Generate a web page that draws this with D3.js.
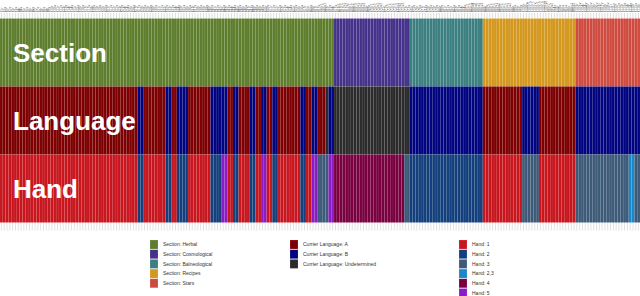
<!DOCTYPE html>
<html>
<head>
<meta charset="utf-8">
<script src="https://cdn.jsdelivr.net/npm/d3@7"></script>
<style>
  body { margin: 0; background: #fff; }
  svg { display: block; font-family: "Liberation Sans", Arial, sans-serif; }
</style>
</head>
<body>
<div id="chart"></div>
<script>
// page labels, grouped by section order as drawn
var pages = ("f1r f1v f2r f2v f3r f3v f4r f4v f5r f5v f6r f6v f7r f7v f8r f8v f9r f9v f10r f10v f11r f11v " +
  "f13r f13v f14r f14v f15r f15v f16r f16v f17r f17v f18r f18v f19r f19v f20r f20v f21r f21v f22r f22v f23r f23v f24r f24v " +
  "f26r f26v f27r f27v f28r f28v f29r f29v f30r f30v f31r f31v f32r f32v f33r f33v f34r f34v f35r f35v f36r f36v f37r f37v f38r f38v f39r f39v f40r f40v " +
  "f41r f41v f42r f42v f43r f43v f44r f44v f45r f45v f46r f46v f47r f47v f48r f48v f49r f49v f50r f50v f51r f51v f52r f52v f53r f53v f54r f54v f55r f55v f56r f56v f57r " +
  "f65r f65v f66r f87r f87v f90r1 f90v1 f93r f93v f94r " +
  "f57v f67r1 f67r2 f67v1 f67v2 f68r1 f68r2 f68r3 f68v1 f68v2 f68v3 f69r f69v f70r1 f70r2 f70v1 f70v2 f71r f71v f72r1 f72r2 f72r3 f72v1 f72v2 f72v3 f73r f73v " +
  "f75r f75v f76r f76v f77r f77v f78r f78v f79r f79v f80r f80v f81r f81v f82r f82v f83r f83v f84r f84v f85r1 f85r2 f86v4 f86v6 f86v5 f86v3 " +
  "f88r f88v f89r1 f89r2 f89v1 f89v2 f95r1 f95r2 f95v1 f95v2 f96r f96v f99r f99v f100r f100v f101r1 f101r2 f101v f102r1 f102r2 f102v1 f102v2 f90r2 f90v2 f94v f58r f58v f66v f85v f86r f86v1 f86v2 " +
  "f103r f103v f104r f104v f105r f105v f106r f106v f107r f107v f108r f108v f111r f111v f112r f112v f113r f113v f114r f114v f115r f115v f116r").split(" ");

var rows = ["Section", "Language", "Hand"];

// runs of [category, number of pages], left to right
var sectionRuns = [["Herbal", 119], ["Cosmological", 27], ["Balneological", 26], ["Recipes", 33], ["Stars", 23]];

var languageRuns = [["A", 49], ["B", 2], ["A", 8], ["B", 2], ["A", 2], ["B", 4], ["A", 8], ["B", 6], ["A", 2], ["B", 2],
  ["A", 4], ["B", 2], ["A", 2], ["B", 2], ["A", 2], ["B", 2], ["A", 8], ["B", 2], ["A", 2], ["B", 2], ["A", 3],
  ["Undetermined", 1], ["B", 2], ["Undetermined", 27], ["B", 26], ["A", 14], ["B", 6], ["A", 13], ["B", 23]];

var handRuns = [["1", 49], ["2", 2], ["1", 8], ["2", 2], ["1", 2], ["2", 4], ["1", 8], ["2", 4], ["5", 2], ["1", 2],
  ["2", 2], ["1", 4], ["2", 2], ["1", 2], ["5", 2], ["1", 2], ["2", 2], ["1", 8], ["2", 2], ["1", 2], ["5", 2],
  ["3", 4], ["5", 2], ["4", 25], ["3", 2], ["2", 26], ["1", 14], ["3", 6], ["1", 13], ["3", 19], ["2,3", 2], ["3", 2]];

var sectionNames = ["Herbal", "Cosmological", "Balneological", "Recipes", "Stars"];
var sectionColors = ["#5e7e2d", "#44318a", "#3c7f80", "#d3981d", "#cf4b40"];
var languageNames = ["A", "B", "Undetermined"];
var languageColors = ["#7c0002", "#00047f", "#2b2b2b"];
var handNames = ["1", "2", "3", "2,3", "4", "5"];
var handColors = ["#c8161f", "#13407c", "#3d5b78", "#1a87c8", "#7a0140", "#8b1bc6"];

var width = 640, height = 296;

var legendKeys = [], legendColors = [];
sectionNames.forEach(function(n, i) { legendKeys.push("Section: " + n); legendColors.push(sectionColors[i]); });
languageNames.forEach(function(n, i) { legendKeys.push("Currier Language: " + n); legendColors.push(languageColors[i]); });
handNames.forEach(function(n, i) { legendKeys.push("Hand: " + n); legendColors.push(handColors[i]); });

var color = d3.scaleOrdinal().domain(legendKeys).range(legendColors);

var prefix = { Section: "Section: ", Language: "Currier Language: ", Hand: "Hand: " };
var runsByRow = { Section: sectionRuns, Language: languageRuns, Hand: handRuns };

// expand runs into one cell per page
var cells = [];
rows.forEach(function(r) {
  var i = 0;
  runsByRow[r].forEach(function(run) {
    for (var k = 0; k < run[1]; k++) {
      cells.push({ page: pages[i], row: r, key: prefix[r] + run[0] });
      i++;
    }
  });
});

var x = d3.scaleBand().domain(pages).range([0, width]);
var y = d3.scaleBand().domain(rows).range([18.5, 222.5]);

var svg = d3.select("#chart").append("svg")
    .attr("width", width)
    .attr("height", height);

// top axis with page names
var topAxis = svg.append("g")
    .attr("transform", "translate(0,18)")
    .call(d3.axisTop(x).tickSize(5));
topAxis.select(".domain").remove();
topAxis.selectAll("line").attr("stroke", "#dcdcdc");
topAxis.selectAll("text")
    .attr("x", null)
    .attr("y", null)
    .attr("dy", "0.35em")
    .attr("transform", "translate(0,-6) rotate(-90)")
    .attr("text-anchor", "start")
    .style("font-size", "3.8px")
    .style("fill", "#666");

// bottom ticks
var bottomAxis = svg.append("g")
    .attr("transform", "translate(0,222.5)")
    .call(d3.axisBottom(x).tickSize(8).tickFormat(""));
bottomAxis.select(".domain").remove();
bottomAxis.selectAll("line").attr("stroke", "#e2e2e2");

svg.append("g").selectAll("rect")
    .data(cells)
  .enter().append("rect")
    .attr("x", function(d) { return x(d.page); })
    .attr("y", function(d) { return y(d.row); })
    .attr("width", x.bandwidth())
    .attr("height", y.bandwidth())
    .attr("fill", function(d) { return color(d.key); })
    .attr("stroke", "#fff")
    .attr("stroke-opacity", 0.09)
    .attr("stroke-width", 0.5);

svg.append("g").selectAll("text")
    .data(rows)
  .enter().append("text")
    .attr("x", 13)
    .attr("y", function(d) { return y(d) + y.bandwidth() / 2 + 9; })
    .attr("fill", "#fff")
    .style("font-size", "26px")
    .style("font-weight", "bold")
    .text(function(d) { return d; });

// legend, one column per row type
var legendCols = [
  { x: 150, keys: legendKeys.slice(0, 5) },
  { x: 290, keys: legendKeys.slice(5, 8) },
  { x: 459, keys: legendKeys.slice(8) }
];

legendCols.forEach(function(col) {
  var g = svg.append("g").attr("transform", "translate(" + col.x + ",240)");
  var item = g.selectAll("g").data(col.keys)
    .enter().append("g")
      .attr("transform", function(d, i) { return "translate(0," + (i * 9.7) + ")"; });
  item.append("rect")
      .attr("width", 8)
      .attr("height", 9)
      .attr("fill", function(d) { return color(d); })
      .attr("stroke", "#fff")
      .attr("stroke-opacity", 0.3)
      .attr("stroke-width", 0.5);
  item.append("text")
      .attr("x", 13)
      .attr("y", 4.5)
      .attr("dy", "0.35em")
      .style("font-size", "5px")
      .style("fill", "#333")
      .text(function(d) { return d; });
});
</script>
</body>
</html>
